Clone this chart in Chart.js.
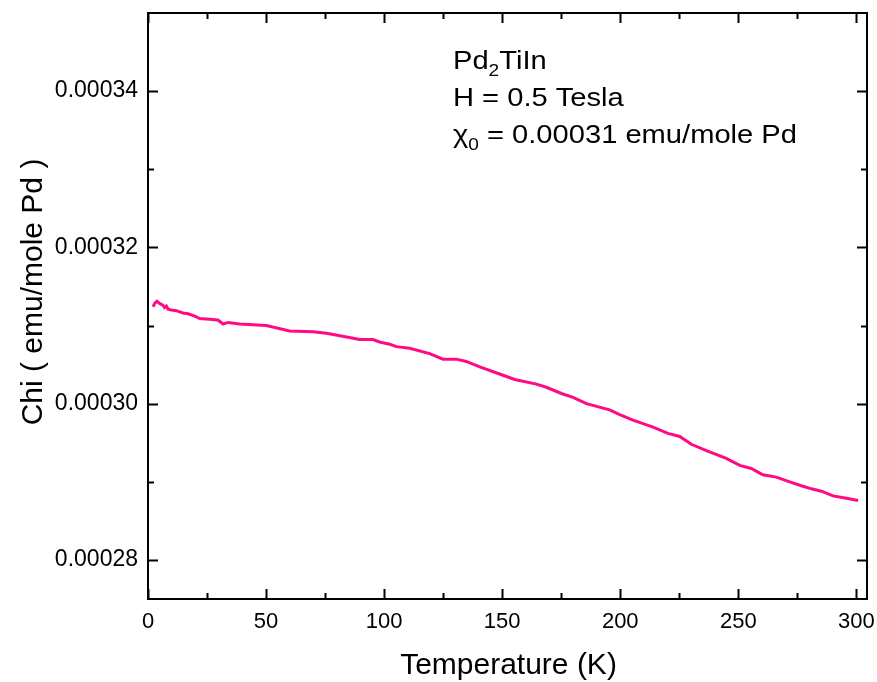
<!DOCTYPE html>
<html>
<head>
<meta charset="utf-8">
<script src="https://cdn.jsdelivr.net/npm/chart.js@4/dist/chart.umd.min.js"></script>
<style>
  html, body { margin: 0; padding: 0; background: #fff; }
  #wrap { width: 877px; height: 682px; position: relative; }
</style>
</head>
<body>
<div id="wrap"><canvas id="chart"></canvas></div>
<script>
// Magnetic susceptibility of Pd2TiIn measured at 0.5 T
const temperatureK = [
  2.1, 3.0, 3.8, 5.0, 6.3, 7.0, 7.8, 8.5, 9.9, 12.0,
  14.8, 17.0, 19.8, 21.9, 26.1, 29.6, 31.8, 33.9, 38.8, 50.1,
  60.0, 69.9, 75.6, 89.7, 95.3, 98.1, 102.4, 105.2, 110.8, 119.3,
  124.9, 130.6, 134.8, 140.5, 148.9, 155.3, 164.5, 168.7, 175.1, 180.0,
  185.7, 195.5, 199.8, 205.4, 213.9, 220.2, 225.2, 230.1, 236.5, 244.9,
  250.6, 255.5, 260.4, 266.1, 271.8, 276.7, 281.0, 285.2, 290.1, 295.8,
  300.7
];
const chiEmuPerMolePd = [
  0.0003124, 0.0003129, 0.0003131, 0.0003128, 0.0003126, 0.0003123, 0.0003125, 0.0003121, 0.0003120, 0.0003119,
  0.0003116, 0.0003115, 0.0003112, 0.0003109, 0.0003108, 0.0003107, 0.0003102, 0.0003104, 0.0003102, 0.0003100,
  0.0003093, 0.0003092, 0.0003090, 0.0003082, 0.0003082, 0.0003079, 0.0003076, 0.0003073, 0.0003071, 0.0003064,
  0.0003057, 0.0003057, 0.0003054, 0.0003047, 0.0003038, 0.0003031, 0.0003025, 0.0003021, 0.0003013, 0.0003008,
  0.0003000, 0.0002992, 0.0002986, 0.0002979, 0.0002970, 0.0002962, 0.0002958, 0.0002948, 0.0002940, 0.0002930,
  0.0002921, 0.0002917, 0.0002909, 0.0002906, 0.0002900, 0.0002895, 0.0002891, 0.0002888, 0.0002882, 0.0002879,
  0.0002876
];

const xMajorTicks = [0, 50, 100, 150, 200, 250, 300];
const xMinorTicks = [25, 75, 125, 175, 225, 275];
const yMajorTicks = [0.00028, 0.00030, 0.00032, 0.00034];
const yMinorTicks = [0.00029, 0.00031, 0.00033];

const xAxisTitle = 'Temperature (K)';
const yAxisTitle = 'Chi ( emu/mole Pd )';
// each note line is a list of [text, isSubscript] runs
const noteLines = [
  [['Pd', false], ['2', true], ['TiIn', false]],
  [['H = 0.5 Tesla', false]],
  [['\u03C7', false], ['0', true], [' = 0.00031 emu/mole Pd', false]]
];

const FONT = '"Liberation Sans", Arial, sans-serif';

// Frame with inward ticks on all four sides, axis titles and the sample note
const framePlugin = {
  id: 'frame',
  afterDraw(chart) {
    const { ctx, chartArea: a, scales: { x, y } } = chart;
    ctx.save();
    ctx.strokeStyle = '#000';
    ctx.lineWidth = 2;
    ctx.strokeRect(a.left, a.top, a.right - a.left, a.bottom - a.top);

    const major = 10, minor = 6;
    ctx.beginPath();
    const xt = (vals, len) => vals.forEach(v => {
      const px = Math.round(x.getPixelForValue(v)) + 0.5;
      ctx.moveTo(px, a.bottom); ctx.lineTo(px, a.bottom - len);
      ctx.moveTo(px, a.top); ctx.lineTo(px, a.top + len);
    });
    const yt = (vals, len) => vals.forEach(v => {
      const py = Math.round(y.getPixelForValue(v)) + 0.5;
      ctx.moveTo(a.left, py); ctx.lineTo(a.left + len, py);
      ctx.moveTo(a.right, py); ctx.lineTo(a.right - len, py);
    });
    xt(xMajorTicks, major); xt(xMinorTicks, minor);
    yt(yMajorTicks, major); yt(yMinorTicks, minor);
    ctx.stroke();

    // axis titles
    ctx.fillStyle = '#000';
    ctx.font = '30px ' + FONT;
    ctx.textAlign = 'center';
    ctx.textBaseline = 'alphabetic';
    ctx.fillText(xAxisTitle, (a.left + a.right) / 2 + 1, a.bottom + 75);
    ctx.save();
    ctx.translate(42, (a.top + a.bottom) / 2 - 14);
    ctx.rotate(-Math.PI / 2);
    ctx.fillText(yAxisTitle, 0, 0);
    ctx.restore();

    // sample note, slightly wide lettering
    ctx.textAlign = 'left';
    const baselines = [69, 106, 143];
    const widen = 1.12;
    noteLines.forEach((runs, i) => {
      ctx.save();
      ctx.translate(453, baselines[i]);
      ctx.scale(widen, 1);
      let cx = 0;
      runs.forEach(([t, sub]) => {
        ctx.font = (sub ? '17px ' : '26px ') + FONT;
        ctx.fillText(t, cx, sub ? 7 : 0);
        cx += ctx.measureText(t).width;
      });
      ctx.restore();
    });
    ctx.restore();
  }
};

const zeroPadding = s => { s.paddingTop = 0; s.paddingBottom = 0; s.paddingLeft = 0; s.paddingRight = 0; };

const points = temperatureK.map((t, i) => ({ x: t, y: chiEmuPerMolePd[i] }));

new Chart(document.getElementById('chart'), {
  type: 'line',
  data: {
    datasets: [{
      data: points,
      borderColor: '#ff0a82',
      borderWidth: 3,
      pointRadius: 0,
      tension: 0,
      fill: false
    }]
  },
  options: {
    responsive: true,
    maintainAspectRatio: false,
    animation: false,
    devicePixelRatio: 1,
    layout: { padding: { left: 0, top: 13, right: 10, bottom: 0 } },
    plugins: { legend: { display: false }, tooltip: { enabled: false } },
    scales: {
      x: {
        type: 'linear',
        min: 0,
        max: 304.5,
        grid: { display: false, drawTicks: false },
        border: { display: false },
        afterBuildTicks: s => { s.ticks = xMajorTicks.map(v => ({ value: v })); },
        afterFit: s => { s.height = 83; zeroPadding(s); },
        ticks: {
          color: '#000',
          font: { family: FONT, size: 22 },
          padding: 10,
          maxRotation: 0,
          callback: v => String(v)
        }
      },
      y: {
        type: 'linear',
        min: 0.000275,
        max: 0.00035,
        grid: { display: false, drawTicks: false },
        border: { display: false },
        afterBuildTicks: s => { s.ticks = yMajorTicks.map(v => ({ value: v })); },
        afterFit: s => { s.width = 148; zeroPadding(s); },
        ticks: {
          color: '#000',
          font: { family: FONT, size: 23 },
          padding: 10,
          callback: v => Number(v).toFixed(5)
        }
      }
    }
  },
  plugins: [framePlugin]
});
</script>
</body>
</html>
